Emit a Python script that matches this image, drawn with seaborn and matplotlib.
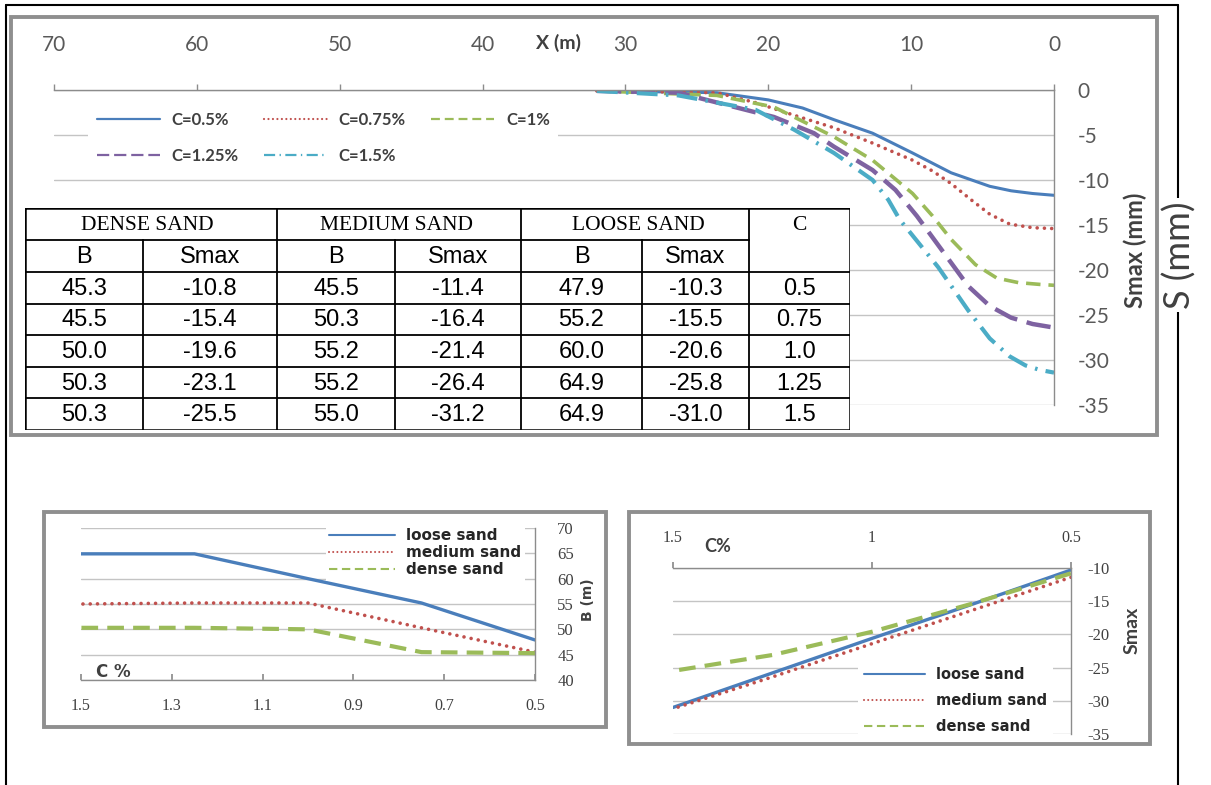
import numpy as np
import pandas as pd
import matplotlib
matplotlib.use("Agg")
import matplotlib.pyplot as plt
import seaborn as sns
from matplotlib.patches import Rectangle
from matplotlib.lines import Line2D
from matplotlib import font_manager

# ---------------- data ----------------
C_vals = [0.5, 0.75, 1.0, 1.25, 1.5]
C_labels = ["0.5", "0.75", "1.0", "1.25", "1.5"]
dense_B = [45.3, 45.5, 50.0, 50.3, 50.3]
dense_S = [-10.8, -15.4, -19.6, -23.1, -25.5]
medium_B = [45.5, 50.3, 55.2, 55.2, 55.0]
medium_S = [-11.4, -16.4, -21.4, -26.4, -31.2]
loose_B = [47.9, 55.2, 60.0, 64.9, 64.9]
loose_S = [-10.3, -15.5, -20.6, -25.8, -31.0]

# settlement profiles (X in m, S in mm)
x_c050 = [32, 23.6, 20.0, 17.6, 15.4, 12.7, 9.9, 7.2, 4.5, 3.0, 1.5, 0]
s_c050 = [-0.1, -0.3, -1.1, -2.0, -3.3, -4.8, -7.0, -9.2, -10.7, -11.2, -11.5, -11.7]
x_c075 = [32, 23.6, 20.9, 18.2, 15.4, 12.7, 9.9, 8.5, 7.2, 5.8, 4.5, 3.1, 1.5, 0]
s_c075 = [-0.1, -0.3, -1.4, -2.8, -4.2, -5.9, -7.8, -9.0, -10.4, -12.2, -13.8, -14.9, -15.3, -15.4]
x_c100 = [32, 23.6, 19.6, 15.4, 12.7, 11.1, 9.9, 8.5, 7.2, 5.5, 4.0, 2.5, 1.0, 0]
s_c100 = [-0.1, -0.6, -1.9, -5.2, -7.8, -9.9, -11.5, -14.0, -16.6, -19.4, -20.9, -21.4, -21.6, -21.7]
x_c125 = [32, 26.3, 19.6, 16.8, 15.4, 12.7, 11.1, 9.6, 7.2, 6.0, 4.5, 3.0, 1.5, 0]
s_c125 = [-0.1, -0.3, -3.0, -4.8, -6.3, -8.9, -11.1, -14.0, -19.2, -21.8, -24.0, -25.3, -26.0, -26.4]
x_c150 = [32, 26.3, 20.9, 18.2, 15.4, 12.7, 11.6, 10.8, 8.1, 6.0, 4.5, 3.1, 2.0, 1.0, 0]
s_c150 = [-0.1, -0.6, -2.2, -4.4, -7.0, -10.0, -12.2, -14.4, -19.7, -24.5, -27.6, -29.6, -30.6, -31.1, -31.4]

top_series = ["C=0.5%", "C=0.75%", "C=1%", "C=1.25%", "C=1.5%"]
x_ticks_top = [70, 60, 50, 40, 30, 20, 10, 0]
y_ticks_top = [0, -5, -10, -15, -20, -25, -30, -35]
b_ticks_x = [1.5, 1.3, 1.1, 0.9, 0.7, 0.5]
b_ticks_y = [40, 45, 50, 55, 60, 65, 70]
s_ticks_x = [1.5, 1.0, 0.5]
s_ticks_x_lab = ["1.5", "1", "0.5"]
s_ticks_y = [-10, -15, -20, -25, -30, -35]
soil_names = ["loose sand", "medium sand", "dense sand"]

# ---------------- style ----------------
sns.set_theme(style="white")
plt.rcParams['font.family'] = ['Lato', 'DejaVu Sans']
plt.rcParams['axes.linewidth'] = 1.0

avail = {f.name for f in font_manager.fontManager.ttflist}
TSANS = 'Liberation Sans Narrow' if 'Liberation Sans Narrow' in avail else 'Liberation Sans'
SERIF = 'Liberation Serif'

BLUE = '#4A7EBB'
RED = '#C0504D'
GREEN = '#9BBB59'
PURPLE = '#7E62A1'
CYAN = '#4BACC6'
GRID = '#c4c4c4'
AXC = '#8c8c8c'
TXT = '#404040'

styles = [
    dict(color=BLUE, lw=2.2, ls='-'),
    dict(color=RED, lw=2.6, ls=(0, (0.01, 2.0)), dash_capstyle='round'),
    dict(color=GREEN, lw=2.6, ls=(0, (4, 2.2))),
    dict(color=PURPLE, lw=3.2, ls=(0, (5.5, 2.2))),
    dict(color=CYAN, lw=3.0, ls=(0, (5, 2, 0.6, 2))),
]

W, H = 1211, 785
fig = plt.figure(figsize=(W / 100, H / 100), dpi=100)
fig.patch.set_facecolor('white')


def rect(x0, y0, x1, y1):
    return [x0 / W, 1 - y1 / H, (x1 - x0) / W, (y1 - y0) / H]


def fx(x):
    return x / W


def fy(y):
    return 1 - y / H


# outer frame
fig.add_artist(Line2D([fx(6), fx(6)], [fy(5), 0], transform=fig.transFigure, color='black', lw=1.5))
fig.add_artist(Line2D([fx(1178), fx(1178)], [fy(5), 0], transform=fig.transFigure, color='black', lw=1.5))
fig.add_artist(Line2D([fx(6), fx(1178)], [fy(5), fy(5)], transform=fig.transFigure, color='black', lw=1.5))


def panel(x0, y0, x1, y1):
    fig.add_artist(Rectangle((fx(x0), fy(y1)), (x1 - x0) / W, (y1 - y0) / H,
                             transform=fig.transFigure, fill=False, ec='#8f8f8f', lw=2.8, zorder=6))


panel(11, 17, 1157, 435)
panel(44, 512, 606, 727)
panel(629, 512, 1150, 744)

# ---------------- top chart ----------------
ax = fig.add_axes(rect(54, 90, 1054, 405))
top_x = [x_c050, x_c075, x_c100, x_c125, x_c150]
top_s = [s_c050, s_c075, s_c100, s_c125, s_c150]
for xs, ss, st, name in zip(top_x, top_s, styles, top_series):
    sns.lineplot(x=xs, y=ss, ax=ax, sort=False, estimator=None, color=st['color'],
                 lw=st['lw'], linestyle=st['ls'], dash_capstyle=st.get('dash_capstyle', 'butt'),
                 label=name, legend=False)
ax.set_xlim(70, 0)
ax.set_ylim(-35, 0)
ax.xaxis.tick_top()
ax.yaxis.tick_right()
ax.set_xticks(x_ticks_top)
ax.set_xticklabels([str(v) for v in x_ticks_top])
ax.set_yticks(y_ticks_top)
ax.set_yticklabels([str(v) for v in y_ticks_top])
ax.tick_params(axis='x', which='both', top=True, bottom=False, direction='out', length=4,
               width=1, color=AXC, pad=21, labelsize=15, labelcolor='#595959')
ax.tick_params(axis='y', which='both', right=True, left=False, length=0, pad=17,
               labelsize=15, labelcolor='#595959')
ax.grid(axis='y', color=GRID, lw=1)
ax.grid(axis='x', visible=False)
for sp in ['left', 'bottom']:
    ax.spines[sp].set_visible(False)
for sp in ['top', 'right']:
    ax.spines[sp].set_color(AXC)
    ax.spines[sp].set_linewidth(1)
ax.set_xlabel('')
ax.set_ylabel('')

handles = []
for st, name in zip(styles, top_series):
    handles.append(Line2D([0], [0], color=st['color'], lw=1.6, linestyle=st['ls'],
                          dash_capstyle=st.get('dash_capstyle', 'butt'), label=name))
order = [0, 3, 1, 4, 2]
leg = ax.legend([handles[i] for i in order], [top_series[i] for i in order], ncol=3,
                loc='upper left', bbox_to_anchor=(fx(80), fy(95)), bbox_transform=fig.transFigure,
                frameon=True, facecolor='white', edgecolor='none', framealpha=1, fancybox=False,
                borderpad=0.5, handlelength=3.8, handletextpad=0.7, labelspacing=1.2,
                columnspacing=1.5, prop={'family': 'Lato', 'weight': 'bold', 'size': 12})
for t in leg.get_texts():
    t.set_color(TXT)

fig.text(fx(558), fy(43), 'X (m)', ha='center', va='center', fontsize=14,
         fontweight='bold', color=TXT, family='Lato')
fig.text(fx(1135), fy(250), 'Smax (mm)', ha='center', va='center', rotation=90,
         fontsize=17, fontweight='bold', color=TXT, family='Lato')
fig.text(fx(1180), fy(255), 'S (mm)', ha='center', va='center', rotation=90,
         fontsize=26, color=TXT, family='Lato', zorder=10,
         bbox=dict(facecolor='white', edgecolor='none', pad=2))

# ---------------- table ----------------
tax = fig.add_axes(rect(25, 208, 850, 430))
tax.set_zorder(3)
tax.set_xlim(25, 850)
tax.set_ylim(430, 208)
tax.axis('off')
tax.add_patch(Rectangle((25, 208), 825, 222, facecolor='white', edgecolor='none'))
col_edges = [25, 143, 277, 395, 521, 642, 749, 850]
row_edges = [208, 240, 272, 303.6, 335.2, 366.8, 398.4, 430]
lk = dict(color='black', lw=1.3, solid_capstyle='projecting')
tax.plot([25, 850, 850, 25, 25], [208, 208, 430, 430, 208], color='black', lw=1.8)
tax.plot([25, 749], [240, 240], **lk)
for y in row_edges[2:-1]:
    tax.plot([25, 850], [y, y], **lk)
for x in [277, 521, 749]:
    tax.plot([x, x], [208, 430], **lk)
for x in [143, 395, 642]:
    tax.plot([x, x], [240, 430], **lk)
cx = [(col_edges[i] + col_edges[i + 1]) / 2 for i in range(7)]
ry = [(row_edges[i] + row_edges[i + 1]) / 2 for i in range(7)]
for name, c in zip(['DENSE SAND', 'MEDIUM SAND', 'LOOSE SAND'], [cx[0:2], cx[2:4], cx[4:6]]):
    tax.text((c[0] + c[1]) / 2, ry[0] + 1, name, ha='center', va='center', family=SERIF,
             fontsize=15.5, color='black')
tax.text(cx[6], ry[0] + 1, 'C', ha='center', va='center', family=SERIF, fontsize=15.5, color='black')
for i, lab in enumerate(['B', 'Smax', 'B', 'Smax', 'B', 'Smax']):
    tax.text(cx[i], ry[1] + 1, lab, ha='center', va='center', family=TSANS, fontsize=17, color='black')
for r in range(5):
    vals = [f"{dense_B[r]:.1f}", f"{dense_S[r]:.1f}", f"{medium_B[r]:.1f}", f"{medium_S[r]:.1f}",
            f"{loose_B[r]:.1f}", f"{loose_S[r]:.1f}", C_labels[r]]
    for i, v in enumerate(vals):
        tax.text(cx[i], ry[2 + r] + 1, v, ha='center', va='center', family=TSANS, fontsize=17,
                 color='black')

# ---------------- bottom-left chart: B vs C ----------------
ax2 = fig.add_axes(rect(81, 528, 535, 680))
b_series = [loose_B, medium_B, dense_B]
b_styles = [dict(color=BLUE, lw=2.4, ls='-'),
            dict(color=RED, lw=2.6, ls=(0, (0.01, 2.0)), cap='round'),
            dict(color=GREEN, lw=3.0, ls=(0, (4, 2.2)), cap='butt')]
for ys, st, name in zip(b_series, b_styles, soil_names):
    sns.lineplot(x=C_vals, y=ys, ax=ax2, sort=False, estimator=None, color=st['color'],
                 lw=st['lw'], linestyle=st['ls'], dash_capstyle=st.get('cap', 'butt'),
                 label=name, legend=False)
ax2.set_xlim(1.5, 0.5)
ax2.set_ylim(40, 70)
ax2.set_xticks(b_ticks_x)
ax2.set_xticklabels([f"{v:.1f}" for v in b_ticks_x], family=SERIF)
ax2.yaxis.tick_right()
ax2.set_yticks(b_ticks_y)
ax2.set_yticklabels([str(v) for v in b_ticks_y], family=SERIF)
ax2.tick_params(axis='x', bottom=True, direction='in', length=4, color=AXC, pad=13,
                labelsize=11.5, labelcolor=TXT)
ax2.tick_params(axis='y', right=True, left=False, length=0, pad=16, labelsize=12, labelcolor=TXT)
ax2.grid(axis='y', color=GRID, lw=1)
ax2.grid(axis='x', visible=False)
for sp in ['left', 'top']:
    ax2.spines[sp].set_visible(False)
for sp in ['bottom', 'right']:
    ax2.spines[sp].set_color(AXC)
ax2.set_xlabel('')
ax2.set_ylabel('')
h2 = [Line2D([0], [0], color=st['color'], lw=1.5, linestyle=st['ls'],
             dash_capstyle=st.get('cap', 'butt')) for st in b_styles]
leg2 = ax2.legend(h2, soil_names, loc='upper left', bbox_to_anchor=(fx(318), fy(517)),
                  bbox_transform=fig.transFigure, frameon=True, facecolor='white',
                  edgecolor='none', framealpha=1, fancybox=False, borderpad=0.25,
                  handlelength=4.3, handletextpad=0.7, labelspacing=0.12,
                  prop={'family': 'DejaVu Sans', 'weight': 'bold', 'size': 11})
for t in leg2.get_texts():
    t.set_color('#262626')
fig.text(fx(113), fy(672), 'C %', ha='center', va='center', fontsize=12,
         fontweight='bold', color=TXT, family='DejaVu Sans')
fig.text(fx(588), fy(600), 'B (m)', ha='center', va='center', rotation=90, fontsize=10,
         fontweight='bold', color=TXT, family='DejaVu Sans')

# ---------------- bottom-right chart: Smax vs C ----------------
ax3 = fig.add_axes(rect(673, 568, 1071, 734))
s_series = [loose_S, medium_S, dense_S]
for ys, st, name in zip(s_series, b_styles, soil_names):
    sns.lineplot(x=C_vals, y=ys, ax=ax3, sort=False, estimator=None, color=st['color'],
                 lw=st['lw'], linestyle=st['ls'], dash_capstyle=st.get('cap', 'butt'),
                 label=name, legend=False)
ax3.set_xlim(1.5, 0.5)
ax3.set_ylim(-35, -10)
ax3.xaxis.tick_top()
ax3.yaxis.tick_right()
ax3.set_xticks(s_ticks_x)
ax3.set_xticklabels(s_ticks_x_lab, family=SERIF)
ax3.set_yticks(s_ticks_y)
ax3.set_yticklabels([str(v) for v in s_ticks_y], family=SERIF)
ax3.tick_params(axis='x', top=True, bottom=False, direction='out', length=4, color=AXC,
                pad=12, labelsize=11.5, labelcolor=TXT)
ax3.tick_params(axis='y', right=True, left=False, length=0, pad=12, labelsize=12, labelcolor=TXT)
ax3.grid(axis='y', color=GRID, lw=1)
ax3.grid(axis='x', visible=False)
for sp in ['left', 'bottom']:
    ax3.spines[sp].set_visible(False)
for sp in ['top', 'right']:
    ax3.spines[sp].set_color(AXC)
ax3.set_xlabel('')
ax3.set_ylabel('')
leg3 = ax3.legend(h2, soil_names, loc='upper left', bbox_to_anchor=(fx(851), fy(654)),
                  bbox_transform=fig.transFigure, frameon=True, facecolor='white',
                  edgecolor='none', framealpha=1, fancybox=False, borderpad=0.4,
                  handlelength=4.2, handletextpad=0.75, labelspacing=0.75,
                  prop={'family': 'DejaVu Sans', 'weight': 'bold', 'size': 10.5})
for t in leg3.get_texts():
    t.set_color('#262626')
fig.text(fx(718), fy(547), 'C%', ha='center', va='center', fontsize=13,
         fontweight='bold', color=TXT, family='Lato')
fig.text(fx(1132), fy(630), 'Smax', ha='center', va='center', rotation=90, fontsize=14,
         fontweight='bold', color=TXT, family='Lato')

fig.savefig('out.png', dpi=100, facecolor='white')
